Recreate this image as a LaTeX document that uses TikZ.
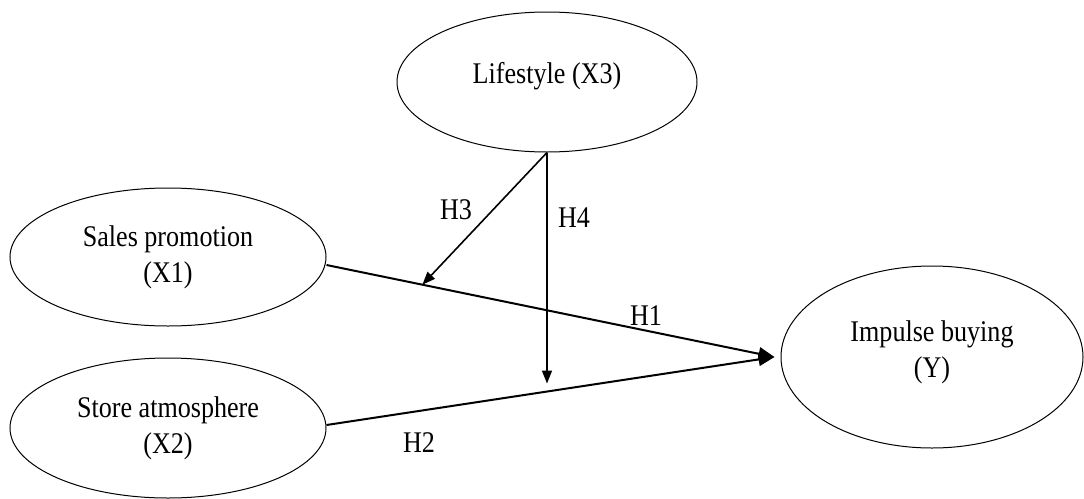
\documentclass[tikz,border=0pt]{standalone}
\usepackage{fontspec}
\setmainfont{Liberation Serif}[FakeStretch=0.87]
\usetikzlibrary{arrows.meta,calc,shapes.geometric}

\begin{document}
\begin{tikzpicture}[x=1pt,y=-1pt,
  construct/.style={draw,ellipse,line width=1pt,inner sep=0pt,align=center,
    font=\fontsize{30}{36}\selectfont},
  path main/.style={line width=2pt,-{Triangle[length=16pt,width=13pt]}},
  path mod/.style={line width=1.6pt,-{Triangle[length=13pt,width=10pt]}},
  hyp/.style={font=\fontsize{30}{36}\selectfont}]
\useasboundingbox (0,0) rectangle (1084,498);

% latent constructs
\node[construct,minimum width=300pt,minimum height=140pt,text depth=18pt]
  (ls) at (547,82) {Lifestyle (X3)};
\node[construct,minimum width=316pt,minimum height=138pt]
  (sp) at (168,257) {Sales promotion\\(X1)};
\node[construct,minimum width=316pt,minimum height=140pt]
  (sa) at (168,428) {Store atmosphere\\(X2)};
\node[construct,minimum width=302pt,minimum height=182pt,text depth=16pt]
  (ib) at (932,357) {Impulse buying\\(Y)};

% path end points
\coordinate (h1s) at ($(sp.east)+(0,8)$);
\coordinate (h2s) at ($(sa.east)+(0,-3)$);
\coordinate (tip) at ($(ib.west)+(-6,0)$);
\coordinate (h4e) at ($(ls.south)+(0,231)$);

% direct effects
\draw[path main] (h1s) -- (tip);
\draw[path main] (h2s) -- (tip);

% moderating effects of lifestyle
\draw[path mod] (ls.south) -- ($(h1s)!0.214!(tip)$);
\draw[path mod] (ls.south) -- (h4e);

% hypothesis labels
\node[hyp] (lh1) at (646,316) {H1};
\node[hyp] (lh2) at (419,443) {H2};
\node[hyp] (lh3) at (456,210) {H3};
\node[hyp] (lh4) at (574,218) {H4};
\end{tikzpicture}
\end{document}
